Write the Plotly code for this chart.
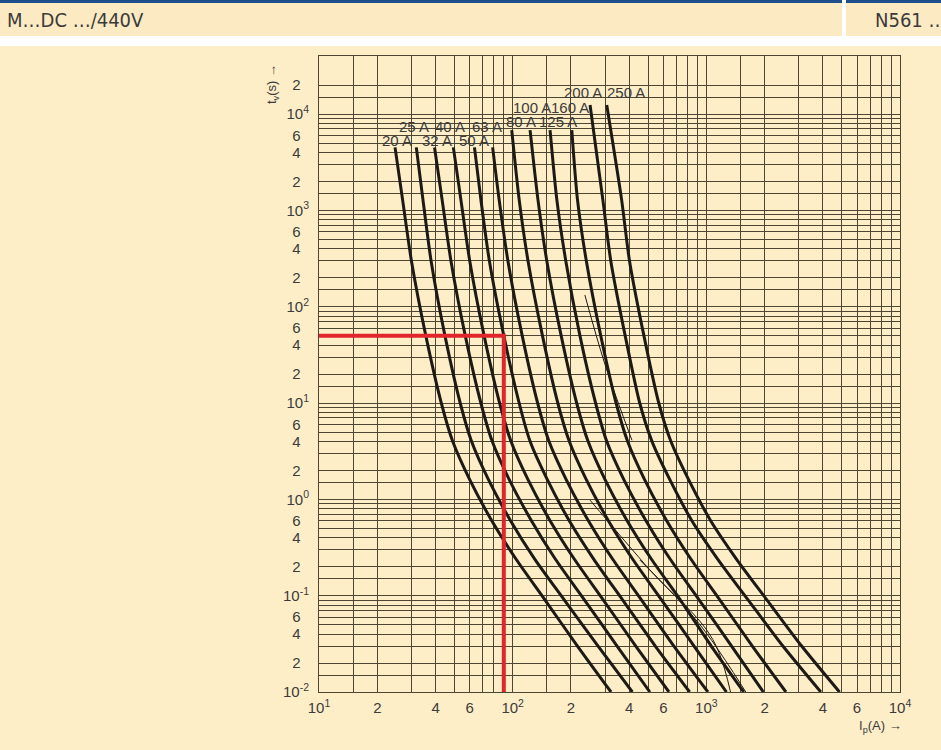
import math
import plotly.graph_objects as go

# ---------------- data ----------------
RATINGS = ["20 A", "25 A", "32 A", "40 A", "50 A", "63 A",
           "80 A", "100 A", "125 A", "160 A", "200 A", "250 A"]

# pre-arcing times (s)
T_A = [4500, 1300, 300, 50, 10, 4, 1.6, 0.6, 0.24, 0.09, 0.03, 0.01]
T_B = [6800, 1300, 300, 50, 10, 4, 1.6, 0.6, 0.24, 0.09, 0.03, 0.01]
T_C = [12400, 1300, 300, 50, 10, 4, 1.6, 0.6, 0.24, 0.09, 0.03, 0.01]

# prospective currents (A)
I_20 = [24.7, 27.0, 30.0, 35.6, 42.8, 49.0, 60.0, 78.0, 104, 147, 216, 322]
I_25 = [31.8, 34.4, 37.9, 44.7, 53.6, 61.3, 75.0, 97.5, 130, 185, 276, 415]
I_32 = [39.5, 43.2, 48.0, 56.9, 68.5, 78.4, 96.0, 125, 166, 235, 346, 511]
I_40 = [49.4, 54.0, 60.0, 71.2, 85.6, 98.0, 120, 156, 208, 294, 432, 641]
I_50 = [63.5, 68.5, 75.8, 90.0, 108, 123, 151, 196, 262, 370, 545, 820]
I_63 = [78.8, 85.1, 94.5, 112, 134.5, 154, 189, 246, 328, 463, 680, 1019]
I_80 = [98.9, 108, 120, 142.5, 171, 196, 240, 312, 416, 588, 864, 1270]
I_100 = [123, 135, 150, 178, 214, 245, 300, 390, 520, 735, 1060, 1560]
I_125 = [156, 169, 188, 222.5, 268, 306, 375, 488, 650, 919, 1350, 1970]
I_160 = [202, 216, 240, 285, 342, 392, 480, 624, 832, 1176, 1728, 2576]
I_200 = [251, 292, 321, 381, 453, 524, 648, 842, 1144, 1646, 2484, 3900]
I_250 = [306, 365, 401, 476, 568, 656, 810, 1053, 1430, 2058, 3105, 4870]

CURVE_I = [I_20, I_25, I_32, I_40, I_50, I_63, I_80, I_100, I_125, I_160, I_200, I_250]
CURVE_T = [T_A] * 6 + [T_B] * 4 + [T_C] * 2

# thin auxiliary lines
THIN1_I = [236, 300, 413]
THIN1_T = [132, 25, 4.1]
THIN2_I = [251, 511, 1081, 1405]
THIN2_T = [0.98, 0.185, 0.035, 0.0058]
THIN3_I = [454, 927, 1892]
THIN3_T = [0.234, 0.050, 0.0058]

# label anchors (current A, time s)
LABEL_I = [25.4, 30.9, 40.6, 47.4, 63.1, 73.6, 110, 126, 171, 198, 231, 385]
LABEL_T = [5370, 7385, 5370, 7385, 5370, 7385, 8320, 11550, 8320, 11550, 16530, 16530]

# red reading example
RED_I = [10, 90, 90]
RED_T = [50, 50, 0.0093]

# axis grid / ticks
GRID_MULT = [1, 1.5, 2, 3, 4, 5, 6, 7, 8, 9]
X_TICK_VALS = [10, 20, 40, 60, 100, 200, 400, 600, 1000, 2000, 4000, 6000, 10000]
X_TICK_TEXT = ["10<sup>1</sup>", "2", "4", "6", "10<sup>2</sup>", "2", "4", "6",
               "10<sup>3</sup>", "2", "4", "6", "10<sup>4</sup>"]
Y_TICK_VALS = [0.01, 0.02, 0.04, 0.06, 0.1, 0.2, 0.4, 0.6, 1, 2, 4, 6, 10, 20, 40, 60,
               100, 200, 400, 600, 1000, 2000, 4000, 6000, 10000, 20000]
Y_TICK_TEXT = ["10<sup>-2</sup>", "2", "4", "6", "10<sup>-1</sup>", "2", "4", "6",
               "10<sup>0</sup>", "2", "4", "6", "10<sup>1</sup>", "2", "4", "6",
               "10<sup>2</sup>", "2", "4", "6", "10<sup>3</sup>", "2", "4", "6",
               "10<sup>4</sup>", "2"]

# ---------------- style ----------------
BG = "#FDEEC8"
HEAD_BG = "#FCEAC2"
GRID = "#4e4532"
CURVE = "#1d1a16"
RED = "#e0262b"
BLUE = "#1d4f8c"
TXT = "#3b3b3b"
FONT = "Arial, Liberation Sans, sans-serif"
HFONT = "DejaVu Sans Condensed, Liberation Sans Narrow, Arial Narrow, sans-serif"

W, H = 941, 750
ML, MR, MT, MB = 319, 41, 56, 58
PW, PH = W - ML - MR, H - MT - MB


def px(xp):
    return (xp - ML) / PW


def py(yp):
    return (H - MB - yp) / PH


fig = go.Figure()

for name, xs, ts in zip(RATINGS, CURVE_I, CURVE_T):
    fig.add_trace(go.Scatter(x=xs, y=ts, mode="lines", name=name,
                             line=dict(color=CURVE, width=3, shape="spline", smoothing=0.7),
                             hoverinfo="skip"))

fig.add_trace(go.Scatter(x=THIN1_I, y=THIN1_T, mode="lines",
                         line=dict(color=CURVE, width=1, shape="spline"), hoverinfo="skip"))
for ti, tt in ((THIN2_I, THIN2_T), (THIN3_I, THIN3_T)):
    fig.add_trace(go.Scatter(x=ti, y=tt, mode="lines", cliponaxis=False,
                             line=dict(color=CURVE, width=1, shape="spline"), hoverinfo="skip"))

fig.add_trace(go.Scatter(x=RED_I, y=RED_T, mode="lines",
                         line=dict(color=RED, width=4), cliponaxis=False, hoverinfo="skip"))

x_minor = [d * m for d in (10, 100, 1000) for m in GRID_MULT] + [10000]
y_minor = [d * m for d in (0.01, 0.1, 1, 10, 100, 1000) for m in GRID_MULT] + [10000, 15000, 20000]

axis_common = dict(type="log", showgrid=True, gridcolor=GRID, gridwidth=1,
                   showline=True, mirror=True, linecolor=GRID, linewidth=1,
                   ticks="", zeroline=False,
                   tickfont=dict(family=FONT, size=15, color=TXT))

fig.update_xaxes(range=[1, 4], tickmode="array", tickvals=X_TICK_VALS, ticktext=X_TICK_TEXT,
                 minor=dict(tickvals=x_minor, showgrid=True, gridcolor=GRID, gridwidth=1, ticks=""),
                 ticklabelstandoff=2, **axis_common)
fig.update_yaxes(range=[-2, math.log10(40000)], tickmode="array", tickvals=Y_TICK_VALS,
                 ticktext=[t + "\u00a0\u00a0" if "sup" not in t else t for t in Y_TICK_TEXT],
                 minor=dict(tickvals=y_minor, showgrid=True, gridcolor=GRID, gridwidth=1, ticks=""),
                 ticklabelstandoff=6, **axis_common)

annotations = []
for name, li, lt in zip(RATINGS, LABEL_I, LABEL_T):
    annotations.append(dict(x=math.log10(li), y=math.log10(lt), xref="x", yref="y",
                            xanchor="center", yanchor="middle",
                            text=name, showarrow=False,
                            font=dict(family=FONT, size=15, color=TXT)))

annotations += [
    dict(x=px(272), y=py(84), xref="paper", yref="paper", text="t<sub>v</sub>(s) \u2192",
         xanchor="center", yanchor="middle",
         textangle=-90, showarrow=False, font=dict(family=FONT, size=13, color=TXT)),
    dict(x=px(880), y=py(726), xref="paper", yref="paper", text="I<sub>p</sub>(A) \u2192",
         xanchor="center", yanchor="middle",
         showarrow=False, font=dict(family=FONT, size=13, color=TXT)),
    dict(x=px(5), y=py(20), xref="paper", yref="paper", xanchor="left", yanchor="middle",
         text="M\u2026DC \u2026/440V", showarrow=False,
         font=dict(family=HFONT, size=20, color=TXT)),
    dict(x=px(873), y=py(20), xref="paper", yref="paper", xanchor="left", yanchor="middle",
         text="N561 \u2026", showarrow=False,
         font=dict(family=HFONT, size=20, color=TXT)),
]


def prect(x0, x1, y0, y1, color, layer="above"):
    return dict(type="rect", xref="paper", yref="paper", x0=px(x0), x1=px(x1),
                y0=py(y1), y1=py(y0), fillcolor=color, line=dict(width=0), layer=layer)


shapes = [
    prect(0, W, 0, 36, HEAD_BG, "below"),
    prect(0, W, 0, 3, BLUE),
    prect(0, W, 36, 46, "white"),
    prect(842, 846, 0, 36, "white"),
    # label backgrounds hiding the grid
    prect(379, 504, 117, 148, BG, "between"),
    prect(504, 581, 113, 130, BG, "between"),
    prect(511, 590, 99, 116, BG, "between"),
    prect(560, 650, 85, 101, BG, "between"),
]

fig.update_layout(width=W, height=H, margin=dict(l=ML, r=MR, t=MT, b=MB),
                  paper_bgcolor=BG, plot_bgcolor=BG, showlegend=False,
                  annotations=annotations, shapes=shapes)

fig.write_html("out.html")
